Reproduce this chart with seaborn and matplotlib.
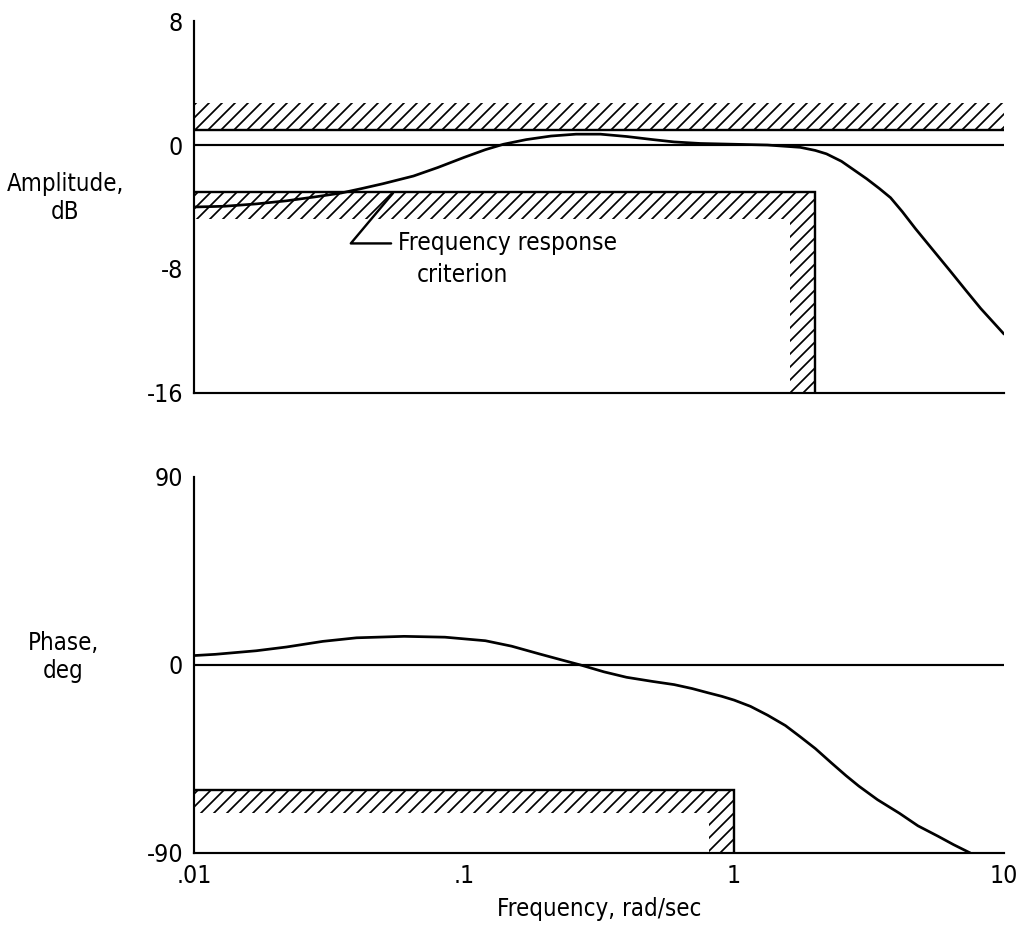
import os
import matplotlib
matplotlib.use("Agg")
import matplotlib.pyplot as plt
from matplotlib import font_manager as fm
from matplotlib.ticker import NullLocator
import seaborn as sns

# ---- data -------------------------------------------------------------
# amplitude response, dB
freq_amp = [0.01, 0.013, 0.017, 0.022, 0.028, 0.035, 0.042, 0.05, 0.065, 0.08,
            0.1, 0.12, 0.14, 0.17, 0.21, 0.26, 0.32, 0.4, 0.5, 0.6, 0.75, 1.0,
            1.33, 1.76, 2.0, 2.2, 2.5, 2.75, 3.1, 3.45, 3.8, 4.2, 4.7, 5.5,
            6.3, 7.2, 8.2, 10.0]
amp_db = [-4.0, -3.95, -3.8, -3.6, -3.35, -3.1, -2.8, -2.5, -2.0, -1.45,
          -0.8, -0.3, 0.05, 0.35, 0.58, 0.7, 0.7, 0.55, 0.35, 0.2, 0.1, 0.05,
          0.0, -0.15, -0.35, -0.57, -1.05, -1.55, -2.18, -2.8, -3.4, -4.3,
          -5.4, -6.85, -8.1, -9.35, -10.55, -12.2]

# phase response, deg
freq_phase = [0.01, 0.012, 0.017, 0.022, 0.03, 0.04, 0.06, 0.085, 0.12, 0.15,
              0.19, 0.23, 0.27, 0.33, 0.4, 0.5, 0.6, 0.7, 0.8, 0.9, 1.0, 1.15,
              1.33, 1.55, 1.76, 2.0, 2.3, 2.6, 2.9, 3.4, 4.1, 4.8, 5.7, 6.5,
              7.5]
phase_deg = [4.5, 5.1, 6.8, 8.6, 11.3, 13.0, 13.7, 13.3, 11.6, 9.0, 5.3, 2.4,
             0.0, -3.3, -5.9, -7.9, -9.4, -11.3, -13.3, -15.0, -16.8, -19.8,
             -24.0, -29.0, -34.4, -40.0, -47.0, -53.0, -58.0, -64.5, -71.0,
             -77.0, -82.0, -86.0, -90.0]

# frequency response criterion
amp_upper_db = 1.0
amp_lower_db = -3.0
amp_lower_wmax = 2.0
phase_lower_deg = -60.0
phase_lower_wmax = 1.0

x_ticks = [0.01, 0.1, 1, 10]
x_ticklabels = [".01", ".1", "1", "10"]
amp_ticks = [8, 0, -8, -16]
amp_ticklabels = ["8", "0", "-8", "-16"]
phase_ticks = [90, 0, -90]
phase_ticklabels = ["90", "0", "-90"]


def condensed_font():
    """Find a regular-weight narrow sans face among the installed fonts."""
    skip = ("bold", "italic", "oblique", "light", "thin", "black", "medium",
            "semi", "extra", "ultra")
    found = []
    for f in fm.fontManager.ttflist:
        base = os.path.basename(f.fname).lower()
        if any(k in base for k in skip):
            continue
        if "condensed" in base or "narrow" in base or f.stretch == "condensed":
            found.append(f)
    order = ["liberationsansnarrow", "dejavusans", "roboto", "notosans",
             "opensans", "lato", "inter"]

    def rank(f):
        base = os.path.basename(f.fname).lower().replace("-", "")
        return next((i for i, k in enumerate(order) if base.startswith(k)), 99)

    found.sort(key=rank)
    return found[0] if found else None


# ---- style --------------------------------------------------------------
sns.set_theme(style="white")
face = condensed_font()
if face is not None:
    plt.rcParams["font.family"] = [face.name, "DejaVu Sans"]
    plt.rcParams["font.stretch"] = face.stretch
    FS = 11.5
else:
    plt.rcParams["font.family"] = ["DejaVu Sans"]
    FS = 10.0
plt.rcParams["text.color"] = "black"
plt.rcParams["axes.labelcolor"] = "black"
plt.rcParams["hatch.linewidth"] = 0.8
plt.rcParams["hatch.color"] = "black"

W, H, DPI = 1019, 931, 156
fig = plt.figure(figsize=(W / DPI, H / DPI), dpi=DPI)
fig.patch.set_facecolor("white")

ax_a = fig.add_axes([0.1904, 0.5779, 0.7949, 0.3995])
ax_p = fig.add_axes([0.1904, 0.0838, 0.7949, 0.4039])

LW = 1.0
XMIN, XMAX = x_ticks[0], x_ticks[-1]
HATCH = "////"


def hatched_box(ax, wmax, level, ymin, band_y, band_w):
    """Criterion boundary with an L-shaped hatched band inside the corner."""
    wl = wmax / band_w
    xs = [XMIN, wmax, wmax, wl, wl, XMIN]
    ys = [level, level, ymin, ymin, level - band_y, level - band_y]
    ax.fill(xs, ys, facecolor="none", edgecolor="black", hatch=HATCH,
            linewidth=0, zorder=1)
    ax.plot([XMIN, wmax, wmax], [level, level, ymin], color="black",
            lw=LW * 1.1, solid_joinstyle="miter", zorder=2)


def style_axes(ax, yticks, ylabels, ylim):
    ax.set_xscale("log")
    ax.set_xlim(XMIN, XMAX)
    ax.set_ylim(*ylim)
    ax.xaxis.set_minor_locator(NullLocator())
    ax.yaxis.set_minor_locator(NullLocator())
    ax.set_xticks(x_ticks, x_ticklabels)
    ax.set_yticks(yticks, ylabels)
    ax.tick_params(direction="in", length=10.5, width=LW, colors="black",
                   labelsize=FS, pad=5)
    for side in ("top", "right"):
        ax.spines[side].set_visible(False)
    for side in ("left", "bottom"):
        ax.spines[side].set_color("black")
        ax.spines[side].set_linewidth(LW)
    ax.set_facecolor("white")
    ax.grid(False)


# ---- amplitude ----------------------------------------------------------
style_axes(ax_a, amp_ticks, amp_ticklabels, (-16, 8))
ax_a.tick_params(axis="x", labelbottom=False)
ax_a.axhline(0, color="black", lw=LW, zorder=2)
ax_a.fill_between([XMIN, XMAX], amp_upper_db, amp_upper_db + 1.7,
                  facecolor="none", edgecolor="black", hatch=HATCH,
                  linewidth=0, zorder=1)
ax_a.plot([XMIN, XMAX], [amp_upper_db, amp_upper_db], color="black",
          lw=LW * 1.1, zorder=2)
hatched_box(ax_a, amp_lower_wmax, amp_lower_db, -16, 1.75, 1.24)
sns.lineplot(x=freq_amp, y=amp_db, ax=ax_a, color="black", lw=1.25,
             estimator=None, sort=False, zorder=3)

ax_a.annotate("Frequency response", xy=(0.0546, -3.1), xytext=(0.057, -6.35),
              textcoords="data", ha="left", va="center", fontsize=FS - 0.3,
              arrowprops=dict(arrowstyle="-", color="black", lw=1.1,
                              connectionstyle="angle,angleA=180,angleB=50,rad=0",
                              relpos=(0, 0.5), shrinkA=1, shrinkB=0))
ax_a.text(0.067, -8.4, "criterion", ha="left", va="center", fontsize=FS - 0.3)

ax_a.set_ylabel("Amplitude,\ndB", rotation=0, fontsize=FS - 0.5, ha="center",
                va="center", linespacing=1.2)
ax_a.yaxis.set_label_coords(-0.159, 0.524)

# ---- phase --------------------------------------------------------------
style_axes(ax_p, phase_ticks, phase_ticklabels, (-90, 90))
ax_p.axhline(0, color="black", lw=LW, zorder=2)
hatched_box(ax_p, phase_lower_wmax, phase_lower_deg, -90, 11.0, 1.24)
sns.lineplot(x=freq_phase, y=phase_deg, ax=ax_p, color="black", lw=1.25,
             estimator=None, sort=False, zorder=3)

ax_p.set_ylabel("Phase,\ndeg", rotation=0, fontsize=FS - 0.5, ha="center",
                va="center", linespacing=1.2)
ax_p.yaxis.set_label_coords(-0.161, 0.521)
ax_p.set_xlabel("Frequency, rad/sec", fontsize=FS - 0.5, va="top")
ax_p.xaxis.set_label_coords(0.5, -0.118)

fig.savefig("out.png", dpi=DPI, facecolor="white")
